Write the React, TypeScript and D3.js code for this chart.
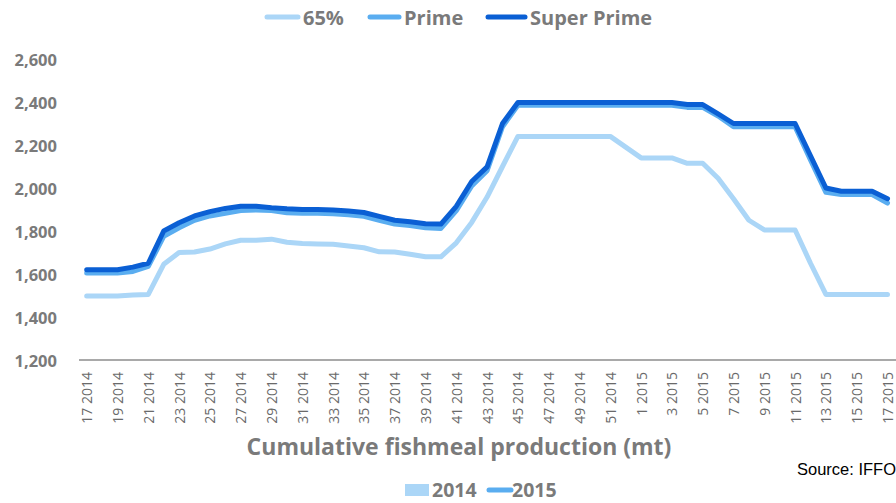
import React from "react";
import * as d3 from "d3";

const weeks2014 = d3.range(17, 53).map((w) => `${w} 2014`);
const weeks2015 = d3.range(1, 18).map((w) => `${w} 2015`);
const categories = [...weeks2014, ...weeks2015];

const seriesNames = ["65%", "Prime", "Super Prime"];

const values65 = [
  1498, 1498, 1498, 1502, 1505, 1645, 1700, 1702, 1716, 1740, 1757, 1757, 1762,
  1748, 1742, 1740, 1738, 1730, 1722, 1703, 1702, 1692, 1680, 1680, 1745, 1840,
  1958, 2100, 2240, 2240, 2240, 2240, 2240, 2240, 2240, 2190, 2140, 2140, 2140,
  2115, 2115, 2045, 1950, 1850, 1805, 1805, 1805, 1650, 1505, 1505, 1505, 1505,
  1505,
];
const valuesPrime = [
  1605, 1605, 1605, 1612, 1635, 1775, 1815, 1850, 1870, 1882, 1895, 1898, 1895,
  1885, 1882, 1882, 1880, 1875, 1868, 1850, 1832, 1825, 1815, 1812, 1895, 2010,
  2080, 2285, 2385, 2385, 2385, 2385, 2385, 2385, 2385, 2385, 2385, 2385, 2385,
  2375, 2375, 2335, 2285, 2285, 2285, 2285, 2285, 2130, 1980, 1970, 1970, 1970,
  1930,
];
const valuesSuper = [
  1620, 1620, 1620, 1632, 1650, 1800, 1838, 1870, 1890, 1905, 1915, 1915, 1908,
  1903, 1900, 1900, 1898, 1893, 1886, 1868, 1850, 1843, 1834, 1832, 1915, 2030,
  2098, 2300, 2398, 2398, 2398, 2398, 2398, 2398, 2398, 2398, 2398, 2398, 2398,
  2388, 2388, 2345, 2300, 2300, 2300, 2300, 2300, 2150, 2000, 1985, 1985, 1985,
  1950,
];

const yTicks = [1200, 1400, 1600, 1800, 2000, 2200, 2400, 2600];
const xTitle = "Cumulative fishmeal production (mt)";
const sourceText = "Source: IFFO";
const yearLegend = ["2014", "2015"];

const colors = ["#abd6f7", "#5aadf0", "#0a5fd4"];
const textGray = "#7a7a7a";
const FONT = "'Open Sans', 'Noto Sans', sans-serif";

export default function App() {
  const W = 896;
  const H = 503;
  const x = d3
    .scaleBand<number>()
    .domain(categories.map((_, i) => i))
    .range([79, 79 + 53 * 15.4]);
  const cx = (i: number) => (x(i) as number) + x.bandwidth() / 2;
  const y = d3.scaleLinear().domain([1200, 2600]).range([360, 59]);
  const line = d3
    .line<number>()
    .x((_, i) => cx(i))
    .y((d) => y(d));
  const allSeries = [values65, valuesPrime, valuesSuper];

  const legendItems = [
    { lx: 264, tx: 303 },
    { lx: 367, tx: 404 },
    { lx: 485, tx: 530 },
  ];

  return (
    <svg
      width={W}
      height={H}
      style={{ position: "absolute", left: 0, top: 0, background: "#fff" }}
      fontFamily={FONT}
    >
      {/* top legend */}
      {seriesNames.map((n, k) => (
        <g key={n}>
          <line
            x1={legendItems[k].lx + 3}
            x2={legendItems[k].tx - 5}
            y1={17}
            y2={17}
            stroke={colors[k]}
            strokeWidth={5}
            strokeLinecap="round"
          />
          <text
            x={legendItems[k].tx}
            y={17}
            dominantBaseline="central"
            fontSize={20}
            fontWeight="bold"
            fill={textGray}
          >
            {n}
          </text>
        </g>
      ))}

      {/* y axis labels */}
      {yTicks.map((t) => (
        <text
          key={t}
          x={57}
          y={y(t)}
          textAnchor="end"
          dominantBaseline="central"
          fontSize={16.5}
          fontWeight="bold"
          fill={textGray}
        >
          {d3.format(",")(t)}
        </text>
      ))}

      {/* x axis line */}
      <line x1={79} x2={W} y1={y(1200)} y2={y(1200)} stroke="#8c8c8c" strokeWidth={1.5} />

      {/* x tick labels */}
      {categories.map((c, i) =>
        i % 2 === 0 ? (
          <text
            key={c}
            transform={`translate(${cx(i)},372) rotate(-90)`}
            textAnchor="end"
            dominantBaseline="central"
            fontSize={14}
            fill="#6a6a6a"
          >
            {c}
          </text>
        ) : null
      )}

      {/* lines */}
      {allSeries.map((s, k) => (
        <path
          key={k}
          d={line(s) as string}
          fill="none"
          stroke={colors[k]}
          strokeWidth={5}
          strokeLinecap="round"
          strokeLinejoin="round"
        />
      ))}

      {/* x title */}
      <text
        x={459}
        y={446}
        textAnchor="middle"
        dominantBaseline="central"
        fontSize={23}
        fontWeight="bold"
        fill={textGray}
      >
        {xTitle}
      </text>

      {/* source */}
      <text x={797} y={475} fontSize={16.5} fontFamily="'Liberation Sans', Arial, sans-serif" fill="#000">
        {sourceText}
      </text>

      {/* bottom legend */}
      <rect x={405} y={484} width={24} height={12} fill={colors[0]} />
      <text x={432} y={497} fontSize={19.5} fontWeight="bold" fill={textGray}>
        {yearLegend[0]}
      </text>
      <line x1={489} x2={511} y1={490} y2={490} stroke={colors[1]} strokeWidth={5} strokeLinecap="round" />
      <text x={512} y={497} fontSize={19.5} fontWeight="bold" fill={textGray}>
        {yearLegend[1]}
      </text>
    </svg>
  );
}
